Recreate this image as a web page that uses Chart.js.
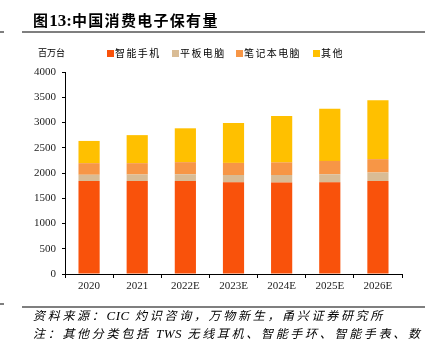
<!DOCTYPE html>
<html><head><meta charset="utf-8">
<script src="https://cdn.jsdelivr.net/npm/chart.js@4"></script>
<style>
html,body{margin:0;padding:0;background:#fff;width:428px;height:349px;overflow:hidden;position:relative;font-family:"Noto Sans CJK SC",sans-serif;}
#c{position:absolute;left:0;top:0;}
.abs{position:absolute;white-space:nowrap;}
.rule{position:absolute;height:1.5px;background:#7f7f7f;}
#title{left:33px;top:11px;font-size:15px;font-weight:bold;letter-spacing:1.3px;line-height:17px;color:#000;}
#title .n{font-family:"Liberation Serif",serif;font-size:17px;letter-spacing:0;}
#unit{left:38px;top:46px;font-size:9px;line-height:13px;color:#000;}
.leg{position:absolute;top:46px;font-size:10px;line-height:13px;letter-spacing:1.4px;color:#000;}
.box{position:absolute;width:7px;height:7px;top:50px;}
.foot{left:33px;font-size:12px;font-style:italic;letter-spacing:2.7px;line-height:16px;color:#000;}
.foot .l{font-family:"Liberation Serif",serif;font-size:13px;letter-spacing:0.5px;}
</style></head>
<body>
<canvas id="c" width="428" height="349"></canvas>
<div class="rule" style="left:0;width:4px;top:31px"></div>
<div class="rule" style="left:22px;width:403px;top:31px"></div>
<div class="abs" id="title">图<span class="n">13:</span>中国消费电子保有量</div>
<div class="abs" id="unit">百万台</div>
<div id="legend"></div>
<div class="rule" style="left:0;width:4px;top:303px"></div>
<div class="rule" style="left:22px;width:403px;top:306px"></div>
<div class="abs foot" style="top:307px">资料来源：<span class="l">CIC</span> 灼识咨询，万物新生，甬兴证券研究所</div>
<div class="abs foot" style="top:325px">注：其他分类包括 <span class="l">TWS</span> 无线耳机、智能手环、智能手表、数</div>
<script>
const categories = ["2020","2021","2022E","2023E","2024E","2025E","2026E"];
const seriesNames = ["智能手机","平板电脑","笔记本电脑","其他"];
const smartphone = [1840,1840,1840,1815,1810,1815,1840];
const tablet = [125,130,135,145,150,160,170];
const laptop = [230,225,240,240,250,265,265];
const other = [440,555,670,790,920,1030,1165];
const yTicks = [0,500,1000,1500,2000,2500,3000,3500,4000];
const colors = ["#F9520B","#D9BC95","#F79646","#FFC000"];
const legendX = [107,172,236,313];

const legend = document.getElementById('legend');
seriesNames.forEach((n,i)=>{
  const b=document.createElement('div');b.className='box';b.style.left=legendX[i]+'px';b.style.background=colors[i];legend.appendChild(b);
  const t=document.createElement('div');t.className='leg';t.style.left=(legendX[i]+8)+'px';t.textContent=n;legend.appendChild(t);
});

const values=[smartphone,tablet,laptop,other];
new Chart(document.getElementById('c'),{
  type:'bar',
  data:{labels:categories,datasets:seriesNames.map((n,i)=>({label:n,data:values[i],backgroundColor:colors[i],borderWidth:0,barPercentage:0.44,categoryPercentage:1.0}))},
  options:{
    responsive:false,animation:false,
    layout:{padding:{top:72,right:26,left:0,bottom:0}},
    plugins:{legend:{display:false},tooltip:{enabled:false}},
    scales:{
      x:{stacked:true,
        grid:{display:true,drawOnChartArea:false,drawTicks:true,tickLength:4,color:'#000',offset:true},
        border:{display:true,color:'#000',width:1},
        ticks:{color:'#222',padding:2,font:{family:'"Liberation Serif", serif',size:11}},
        afterFit:s=>{s.height=75;}
      },
      y:{stacked:true,min:0,max:4000,
        afterBuildTicks:s=>{s.ticks=yTicks.map(v=>({value:v}));},
        grid:{display:true,drawOnChartArea:false,drawTicks:true,tickLength:3,color:'#000'},
        border:{display:true,color:'#000',width:1},
        ticks:{color:'#222',padding:6,font:{family:'"Liberation Serif", serif',size:11},callback:v=>String(v)},
        afterFit:s=>{s.width=65;}
      }
    }
  }
});
</script>
</body></html>
